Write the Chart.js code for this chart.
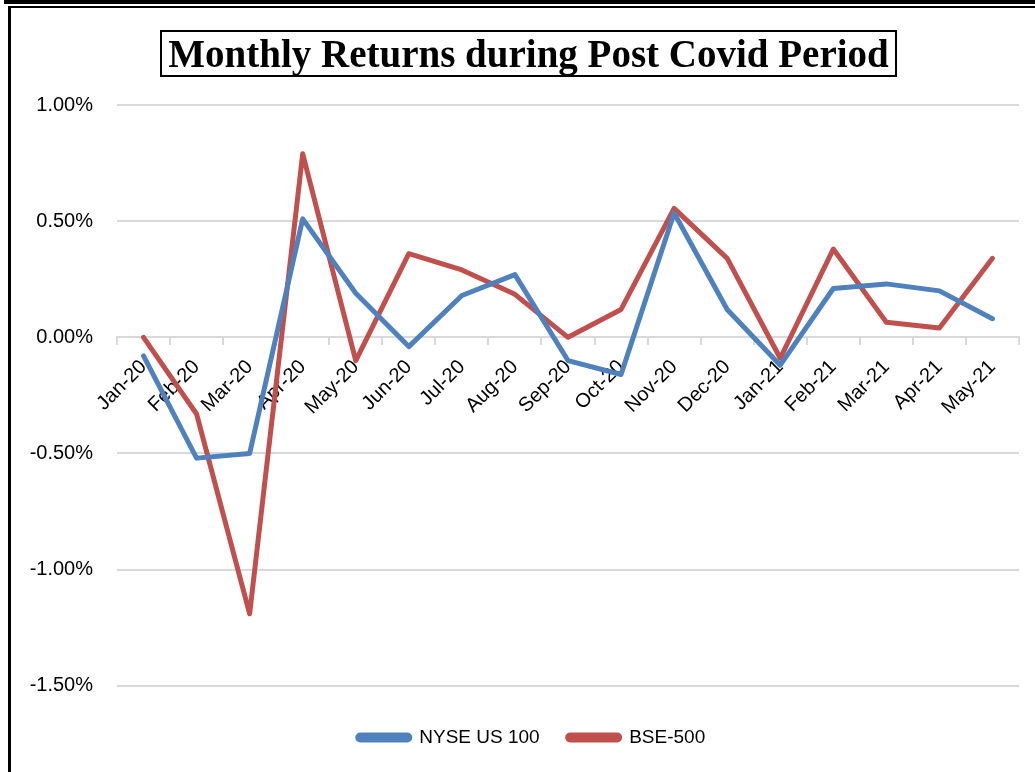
<!DOCTYPE html>
<html>
<head>
<meta charset="utf-8">
<script src="https://cdn.jsdelivr.net/npm/chart.js@4"></script>
<style>
  html, body { margin: 0; padding: 0; background: #fff; }
  #wrap { position: relative; width: 1035px; height: 772px; overflow: hidden; }
  #chart { position: absolute; left: 0; top: 0; }
  .topbar { position: absolute; left: 4px; top: 0; width: 1040px; height: 4px; background: #000; }
  .topline { position: absolute; left: 8px; top: 6px; width: 1040px; height: 2px; background: #000; }
  .leftline { position: absolute; left: 8px; top: 6px; width: 3px; height: 800px; background: #000; }
  #titulo {
    position: absolute; left: 160px; top: 30px; width: 733px; height: 43px;
    border: 2px solid #000; text-align: center; line-height: 43px; white-space: nowrap;
    font-family: "Liberation Serif", serif; font-weight: bold; font-size: 39px; color: #000;
  }
</style>
</head>
<body>
<div id="wrap">
  <canvas id="chart" width="1035" height="772"></canvas>
  <div class="topbar"></div>
  <div class="topline"></div>
  <div class="leftline"></div>
  <div id="titulo">Monthly Returns during Post Covid Period</div>
</div>
<script>
// Meses
const meses = ['Jan-20','Feb-20','Mar-20','Apr-20','May-20','Jun-20','Jul-20','Aug-20',
  'Sep-20','Oct-20','Nov-20','Dec-20','Jan-21','Feb-21','Mar-21','Apr-21','May-21'];

// Retornos mensuales (%)
const nyse = [-0.08, -0.52, -0.50, 0.51, 0.19, -0.04, 0.18, 0.27, -0.10, -0.16,
  0.535, 0.12, -0.12, 0.21, 0.23, 0.20, 0.08];
const bse = [0.00, -0.33, -1.19, 0.79, -0.10, 0.36, 0.29, 0.185, 0.00, 0.12,
  0.555, 0.34, -0.09, 0.38, 0.065, 0.04, 0.34];

// Eje Y
const yMin = -1.5;
const yMax = 1.0;
const yPaso = 0.5;

const fuente = { family: '"Liberation Sans", Arial, sans-serif', size: 20 };
const fuenteLeyenda = { family: '"Liberation Sans", Arial, sans-serif', size: 19 };
const gris = '#d9d9d9';

// la leyenda va un poco corrida a la derecha
const corrimientoLeyenda = 22;
const moverLeyenda = {
  id: 'moverLeyenda',
  afterLayout(chart) {
    chart.legend.left += corrimientoLeyenda;
    chart.legend.right += corrimientoLeyenda;
  }
};

new Chart(document.getElementById('chart'), {
  type: 'line',
  data: {
    labels: meses,
    datasets: [{
      label: 'NYSE US 100',
      data: nyse,
      borderColor: '#4f81bd',
      backgroundColor: '#4f81bd',
      borderWidth: 5,
      pointRadius: 0,
      borderCapStyle: 'round',
      borderJoinStyle: 'round',
      tension: 0
    }, {
      label: 'BSE-500',
      data: bse,
      borderColor: '#c0504d',
      backgroundColor: '#c0504d',
      borderWidth: 5,
      pointRadius: 0,
      borderCapStyle: 'round',
      borderJoinStyle: 'round',
      tension: 0
    }]
  },
  plugins: [moverLeyenda],
  options: {
    responsive: false,
    animation: false,
    layout: { padding: { top: 105, right: 16, bottom: 15, left: 0 } },
    plugins: {
      tooltip: { enabled: false },
      legend: {
        position: 'bottom',
        title: { display: true, text: '', font: { size: 1 }, padding: { top: 0, bottom: 13 } },
        labels: {
          color: '#000',
          font: fuenteLeyenda,
          boxWidth: 52,
          boxHeight: 5,
          useBorderRadius: true,
          borderRadius: 2.5,
          padding: 28
        }
      }
    },
    scales: {
      x: {
        position: { y: 0 },
        offset: true,
        grid: { display: true, drawOnChartArea: false, offset: true, tickLength: 7, color: gris, lineWidth: 2 },
        border: { display: true, color: gris, width: 2 },
        ticks: { color: '#000', font: fuente, minRotation: 45, maxRotation: 45, padding: 11, autoSkip: false }
      },
      y: {
        min: yMin,
        max: yMax,
        afterFit(scale) { scale.width = 117; },
        grid: { color: gris, lineWidth: 2, drawTicks: false },
        border: { display: false },
        ticks: {
          stepSize: yPaso,
          color: '#000',
          font: fuente,
          padding: 24,
          callback: v => v.toFixed(2) + '%'
        }
      }
    }
  }
});
</script>
</body>
</html>
